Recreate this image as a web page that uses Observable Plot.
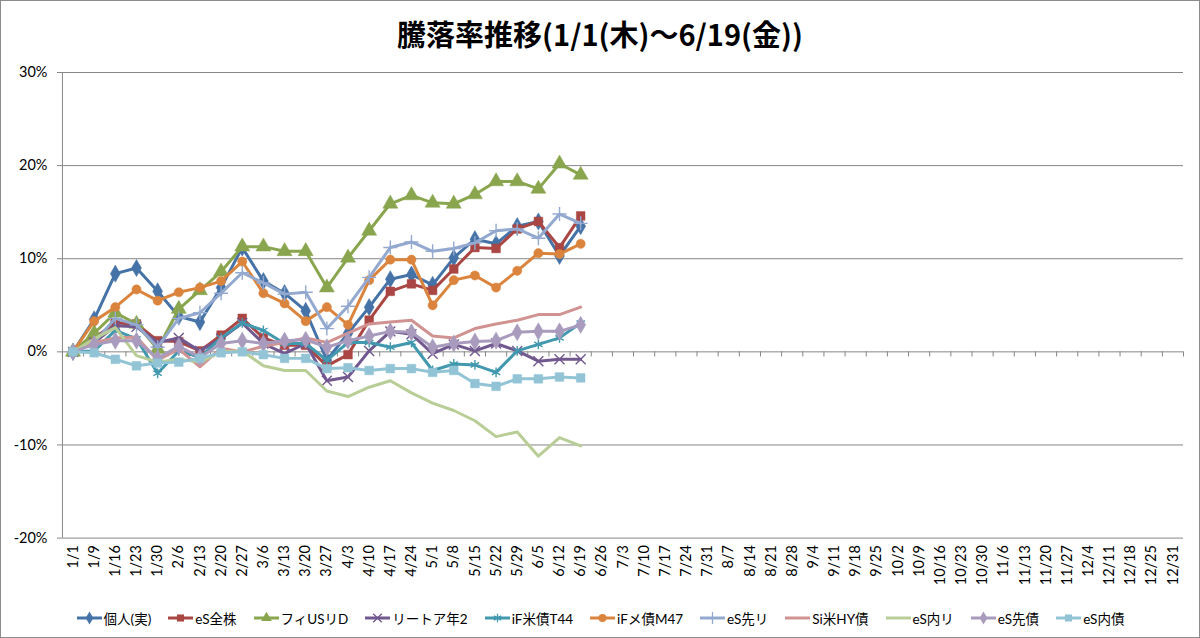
<!DOCTYPE html>
<html>
<head>
<meta charset="utf-8">
<script src="https://cdn.jsdelivr.net/npm/d3@7"></script>
<script src="https://cdn.jsdelivr.net/npm/@observablehq/plot@0.6"></script>
<style>
  html, body { margin: 0; padding: 0; background: #fff; }
  #wrap { position: relative; width: 1200px; height: 638px; box-sizing: border-box; border: 1px solid #8c8c8c; overflow: hidden; font-family: Lato, "Noto Sans CJK JP", sans-serif; }
  #title { position: absolute; left: 0; top: 0; width: 100%; height: 64px; display: flex; align-items: center; justify-content: center; font-family: "Noto Sans CJK JP", sans-serif; font-weight: bold; font-size: 29px; color: #000; }
  #chart { position: absolute; left: -1px; top: 59px; }
  #legend { position: absolute; left: 0; top: 600px; width: 100%; height: 34px; display: flex; align-items: center; justify-content: center; font-family: Lato, "Noto Sans CJK JP", sans-serif; font-size: 13.5px; color: #000; }
  .item { display: flex; align-items: center; margin: 0 8px; white-space: nowrap; }
  .item svg { margin-right: 1px; }
</style>
</head>
<body>
<div id="wrap">
  <div id="title">騰落率推移(1/1(木)～6/19(金))</div>
  <div id="chart"></div>
  <div id="legend"></div>
</div>
<script>
// ---- Data ----
const dates = ["1/1","1/9","1/16","1/23","1/30","2/6","2/13","2/20","2/27","3/6","3/13","3/20","3/27","4/3","4/10","4/17","4/24","5/1","5/8","5/15","5/22","5/29","6/5","6/12","6/19","6/26","7/3","7/10","7/17","7/24","7/31","8/7","8/14","8/21","8/28","9/4","9/11","9/18","9/25","10/2","10/9","10/16","10/23","10/30","11/6","11/13","11/20","11/27","12/4","12/11","12/18","12/25","12/31"];

const seriesNames = ["個人(実)","eS全株","フィUSリD","リートア年2","iF米債T44","iFメ債M47","eS先リ","Si米HY債","eS内リ","eS先債","eS内債"];

// values in %, one per week from 1/1 to 6/19
const kojin   = [0, 3.5, 8.4, 9.0, 6.5, 3.8, 3.2, 6.9, 11.2, 7.6, 6.3, 4.4, -0.9, 2.0, 4.8, 7.8, 8.3, 7.2, 10.1, 12.1, 11.6, 13.5, 14.0, 10.3, 13.5];
const esZenkabu = [0, 1.5, 3.1, 3.0, 1.2, 1.1, 0.1, 1.8, 3.6, 1.5, 0.7, 0.7, -1.5, -0.3, 3.4, 6.5, 7.3, 6.6, 8.9, 11.2, 11.1, 13.2, 14.0, 11.2, 14.6];
const fiUsRD  = [0, 2.0, 4.2, 3.0, 0.3, 4.6, 6.6, 8.6, 11.3, 11.3, 10.8, 10.8, 6.9, 10.1, 13.0, 15.9, 16.8, 16.0, 15.9, 16.9, 18.3, 18.3, 17.5, 20.2, 19.0];
const reitA2  = [0, 1.0, 2.8, 2.7, 1.0, 1.5, 0.1, 1.4, 3.1, 0.9, -0.2, 0.9, -3.1, -2.7, 0.1, 2.2, 1.9, -0.2, 0.8, 0.1, 0.9, 0.1, -1.0, -0.8, -0.8];
const ifBeisaiT44 = [0, 0.1, 2.3, 1.4, -2.3, 0.1, -0.6, 1.5, 3.1, 2.3, 0.9, 0.9, -0.9, 1.0, 1.0, 0.5, 1.0, -2.0, -1.3, -1.4, -2.2, 0.1, 0.8, 1.5, 3.1];
const ifMesaiM47 = [0, 3.3, 4.8, 6.7, 5.5, 6.4, 6.9, 7.6, 9.7, 6.3, 5.2, 3.3, 4.8, 2.9, 7.7, 9.9, 9.9, 5.0, 7.7, 8.2, 6.9, 8.7, 10.6, 10.5, 11.6];
const esSakiR = [0, 1.0, 3.6, 2.9, 0.5, 3.6, 4.2, 6.3, 8.5, 7.4, 6.2, 6.4, 2.5, 4.9, 8.0, 11.2, 11.8, 10.8, 11.1, 11.7, 13.0, 13.2, 12.2, 14.8, 13.8];
const siHY    = [0, 1.0, 1.5, 1.6, -0.9, 0.3, -1.6, 0.4, 0.0, 0.6, 1.0, 1.5, 1.0, 2.0, 3.0, 3.2, 3.4, 1.7, 1.5, 2.5, 3.0, 3.4, 4.0, 4.0, 4.8];
const esUchiR = [0, 1.4, 2.6, -0.4, -1.1, -0.8, -1.1, 0.0, 0.1, -1.5, -2.0, -2.0, -4.2, -4.8, -3.8, -3.1, -4.4, -5.5, -6.3, -7.4, -9.1, -8.6, -11.2, -9.2, -10.1];
const esSakiSai = [0, 0.8, 1.2, 1.2, -0.7, 0.6, -0.6, 0.9, 1.2, 0.9, 1.2, 1.3, 0.5, 1.2, 1.7, 2.2, 2.1, 0.5, 0.9, 1.1, 1.2, 2.1, 2.2, 2.2, 2.9];
const esUchiSai = [0, -0.1, -0.8, -1.5, -1.2, -1.1, -0.7, -0.1, 0.0, -0.3, -0.7, -0.7, -1.8, -1.7, -2.0, -1.8, -1.8, -2.2, -2.0, -3.4, -3.7, -2.9, -2.9, -2.7, -2.8];

const seriesValues = [kojin, esZenkabu, fiUsRD, reitA2, ifBeisaiT44, ifMesaiM47, esSakiR, siHY, esUchiR, esSakiSai, esUchiSai];
const yTicks = [-0.2, -0.1, 0, 0.1, 0.2, 0.3];

// ---- Styles ----
const colors  = ["#4572A7","#AA4643","#89A54E","#71588F","#4198AF","#DB843D","#93A9CF","#D19392","#B9CD96","#A99BBD","#92C4D6"];
const symbols = ["diamond","square","triangle","times","asterisk","circle","plus",null,null,"diamond","square"];
const strokeSymbols = new Set(["times","asterisk","plus"]);

const W = 1200, H = 541, mL = 62, mR = 16, mT = 12, mB = 63;
const step = (W - mL - mR) / dates.length;

const marks = [];
// gridlines
marks.push(Plot.ruleY(yTicks.filter(d => d !== 0), {y: d => d, stroke: "#868686", strokeWidth: 1}));
// value axis line
marks.push(Plot.ruleX([dates[0]], {x: d => d, dx: -step / 2, y1: -0.2, y2: 0.3, stroke: "#868686", strokeWidth: 1}));
// category axis line at 0 with ticks between categories
marks.push(Plot.ruleY([0], {stroke: "#868686", strokeWidth: 1}));
marks.push(Plot.ruleX(dates, {x: d => d, dx: -step / 2, y1: 0, y2: -0.0055, stroke: "#868686", strokeWidth: 1}));
marks.push(Plot.ruleX([dates[dates.length - 1]], {x: d => d, dx: step / 2, y1: 0, y2: -0.0055, stroke: "#868686", strokeWidth: 1}));

seriesNames.forEach((name, i) => {
  const rows = seriesValues[i].map((v, j) => ({date: dates[j], value: v / 100, series: name}));
  marks.push(Plot.line(rows, {x: "date", y: "value", stroke: colors[i], strokeWidth: 3, strokeLinejoin: "round", strokeLinecap: "round"}));
  const sym = symbols[i];
  if (sym) {
    if (strokeSymbols.has(sym)) {
      marks.push(Plot.dot(rows, {x: "date", y: "value", symbol: () => sym, r: 4.6, stroke: colors[i], strokeWidth: 1.4, fill: "none"}));
    } else {
      const r = sym === "circle" ? 4.6 : sym === "square" ? 4.9 : sym === "triangle" ? 5.6 : 5.2;
      marks.push(Plot.dot(rows, {x: "date", y: "value", symbol: () => sym, r, fill: colors[i], stroke: colors[i], strokeWidth: 0.5}));
    }
  }
});

marks.push(Plot.axisY({ticks: yTicks, tickFormat: d => (d * 100).toFixed(0) + "%", tickSize: 5, tickPadding: 10, stroke: "#868686", fontSize: 14.5, fill: "#000"}));
marks.push(Plot.axisX({anchor: "bottom", tickRotate: -90, tickSize: 0, tickPadding: 7, fontSize: 14.5, fill: "#000"}));

const chart = Plot.plot({
  width: W, height: H,
  marginLeft: mL, marginRight: mR, marginTop: mT, marginBottom: mB,
  style: {fontFamily: 'Lato, "Noto Sans CJK JP", sans-serif', background: "transparent", color: "#000", overflow: "visible"},
  x: {type: "point", domain: dates, padding: 0.5, round: false, label: null},
  y: {domain: [-0.2, 0.3], label: null},
  symbol: {type: "identity"},
  marks
});
document.getElementById("chart").appendChild(chart);

// ---- Legend ----
const legend = d3.select("#legend");
seriesNames.forEach((name, i) => {
  const item = legend.append("div").attr("class", "item");
  const svg = item.append("svg").attr("width", 27).attr("height", 14);
  svg.append("line").attr("x1", 1).attr("x2", 26).attr("y1", 7).attr("y2", 7).attr("stroke", colors[i]).attr("stroke-width", 3);
  const sym = symbols[i];
  if (sym) {
    const map = {diamond: d3.symbolDiamond, square: d3.symbolSquare, triangle: d3.symbolTriangle, times: d3.symbolTimes, asterisk: d3.symbolAsterisk, circle: d3.symbolCircle, plus: d3.symbolPlus};
    const p = svg.append("path").attr("transform", "translate(13.5,7)").attr("d", d3.symbol(map[sym], 50)());
    if (strokeSymbols.has(sym)) p.attr("fill", "none").attr("stroke", colors[i]).attr("stroke-width", 1.3);
    else p.attr("fill", colors[i]);
  }
  item.append("span").text(name);
});
</script>
</body>
</html>
